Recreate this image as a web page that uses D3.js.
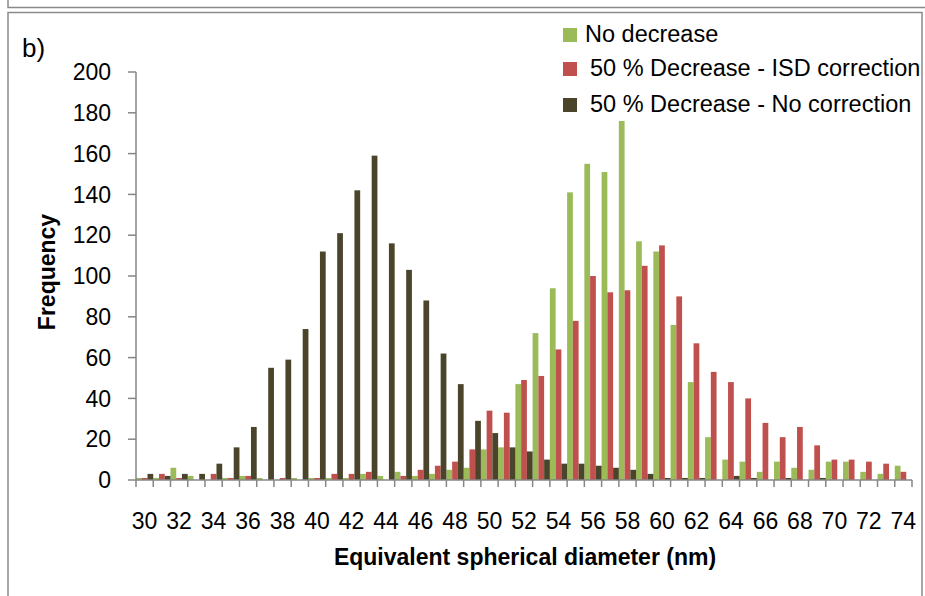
<!DOCTYPE html>
<html>
<head>
<meta charset="utf-8">
<script src="https://cdn.jsdelivr.net/npm/d3@7"></script>
<style>
  body { margin: 0; background: #fff; }
  svg text { font-family: 'Liberation Sans', Arial, sans-serif; fill: #000; }
</style>
</head>
<body>
<div id="graph"></div>
<script>
var width = 925, height = 596

var diameters = d3.range(30, 75)
var tickLabels = d3.range(30, 75, 2)
var yTicks = d3.range(0, 201, 20)

var seriesNames = ['No decrease', '50 % Decrease - ISD correction', '50 % Decrease - No correction']
var colors = ['#9bbb59', '#c0504d', '#4a452a']

var noDecrease = [1, 1, 6, 2, 0, 1, 2, 1, 0, 1, 1, 1, 1, 3, 2, 4, 2, 3, 5, 6, 15, 16, 47, 72, 94,
  141, 155, 151, 176, 117, 112, 76, 48, 21, 10, 9, 4, 9, 6, 5, 9, 9, 4, 3, 7]
var isdCorrection = [1, 3, 1, 0, 3, 1, 2, 0, 1, 0, 1, 3, 3, 4, 0, 2, 5, 7, 9, 15, 34, 33, 49, 51, 64,
  78, 100, 92, 93, 105, 115, 90, 67, 53, 48, 40, 28, 21, 26, 17, 10, 10, 9, 8, 4]
var noCorrection = [3, 2, 3, 3, 8, 16, 26, 55, 59, 74, 112, 121, 142, 159, 116, 103, 88, 62, 47, 29, 23, 16, 14, 10, 8,
  8, 7, 6, 5, 3, 1, 1, 1, 0, 2, 1, 0, 1, 0, 1, 0, 0, 0, 0, 0]

var series = [noDecrease, isdCorrection, noCorrection]

var margin = {left: 136, right: 13, top: 72, bottom: 116}
var axisColor = '#868686'

var svg = d3.select('#graph').append('svg')
    .attr('width', width).attr('height', height)

// frame of this panel and the bottom edge of the one above it
svg.append('path')
    .attr('d', 'M8,0V7.5H925')
    .attr('fill', 'none').attr('stroke', '#8a8a8a').attr('stroke-width', 1.5)
svg.append('path')
    .attr('d', 'M8,600V12.5H922V600')
    .attr('fill', 'none').attr('stroke', '#8a8a8a').attr('stroke-width', 1.5)

var x = d3.scaleBand().domain(diameters)
    .range([margin.left, width - margin.right])
var xs = d3.scaleBand().domain(d3.range(series.length))
    .range([0, x.bandwidth()])
var y = d3.scaleLinear().domain([0, 200])
    .range([height - margin.bottom, margin.top])

var groups = svg.append('g').selectAll('g')
    .data(series).join('g')
    .attr('fill', (d, i) => colors[i])

groups.selectAll('rect')
    .data((d, i) => d.map((v, j) => ({v: v, cat: diameters[j], s: i})))
    .join('rect')
    .attr('x', d => x(d.cat) + xs(d.s))
    .attr('width', xs.bandwidth())
    .attr('y', d => y(d.v))
    .attr('height', d => y(0) - y(d.v))

// y axis
var yAxis = svg.append('g')
yAxis.append('line')
    .attr('x1', margin.left).attr('x2', margin.left)
    .attr('y1', y(200)).attr('y2', y(0))
    .attr('stroke', axisColor).attr('stroke-width', 1.5)
yAxis.selectAll('line.tick').data(yTicks).join('line')
    .attr('class', 'tick')
    .attr('x1', margin.left - 8).attr('x2', margin.left)
    .attr('y1', d => y(d)).attr('y2', d => y(d))
    .attr('stroke', axisColor).attr('stroke-width', 1.5)
yAxis.selectAll('text').data(yTicks).join('text')
    .attr('x', 111).attr('y', d => y(d)).attr('dy', '0.36em')
    .attr('text-anchor', 'end')
    .attr('font-size', 23)
    .text(d => d)

// x axis
var xAxis = svg.append('g')
var edges = diameters.map(d => x(d)).concat([x.range()[1]])
xAxis.append('line')
    .attr('x1', x.range()[0]).attr('x2', x.range()[1])
    .attr('y1', y(0)).attr('y2', y(0))
    .attr('stroke', axisColor).attr('stroke-width', 1.5)
xAxis.selectAll('line.tick').data(edges).join('line')
    .attr('class', 'tick')
    .attr('x1', d => d).attr('x2', d => d)
    .attr('y1', y(0)).attr('y2', y(0) + 7)
    .attr('stroke', axisColor).attr('stroke-width', 1.5)
xAxis.selectAll('text').data(tickLabels).join('text')
    .attr('x', d => x(d) + x.bandwidth() / 2)
    .attr('y', 529)
    .attr('text-anchor', 'middle')
    .attr('font-size', 23)
    .text(d => d)

svg.append('text')
    .attr('x', 525).attr('y', 565)
    .attr('text-anchor', 'middle')
    .attr('font-size', 23).attr('font-weight', 'bold')
    .text('Equivalent spherical diameter (nm)')

svg.append('text')
    .attr('transform', 'translate(55,272) rotate(-90)')
    .attr('text-anchor', 'middle')
    .attr('font-size', 23).attr('font-weight', 'bold')
    .text('Frequency')

svg.append('text')
    .attr('x', 22).attr('y', 57)
    .attr('font-size', 26)
    .text('b)')

// legend
var legend = svg.append('g').selectAll('g')
    .data(seriesNames).join('g')
    .attr('transform', (d, i) => 'translate(563,' + [28, 62, 98][i] + ')')
legend.append('rect')
    .attr('width', 14).attr('height', 14)
    .attr('fill', (d, i) => colors[i])
legend.append('text')
    .attr('x', (d, i) => i ? 27 : 22).attr('y', 14)
    .attr('font-size', 23.5)
    .text(d => d)
</script>
</body>
</html>
